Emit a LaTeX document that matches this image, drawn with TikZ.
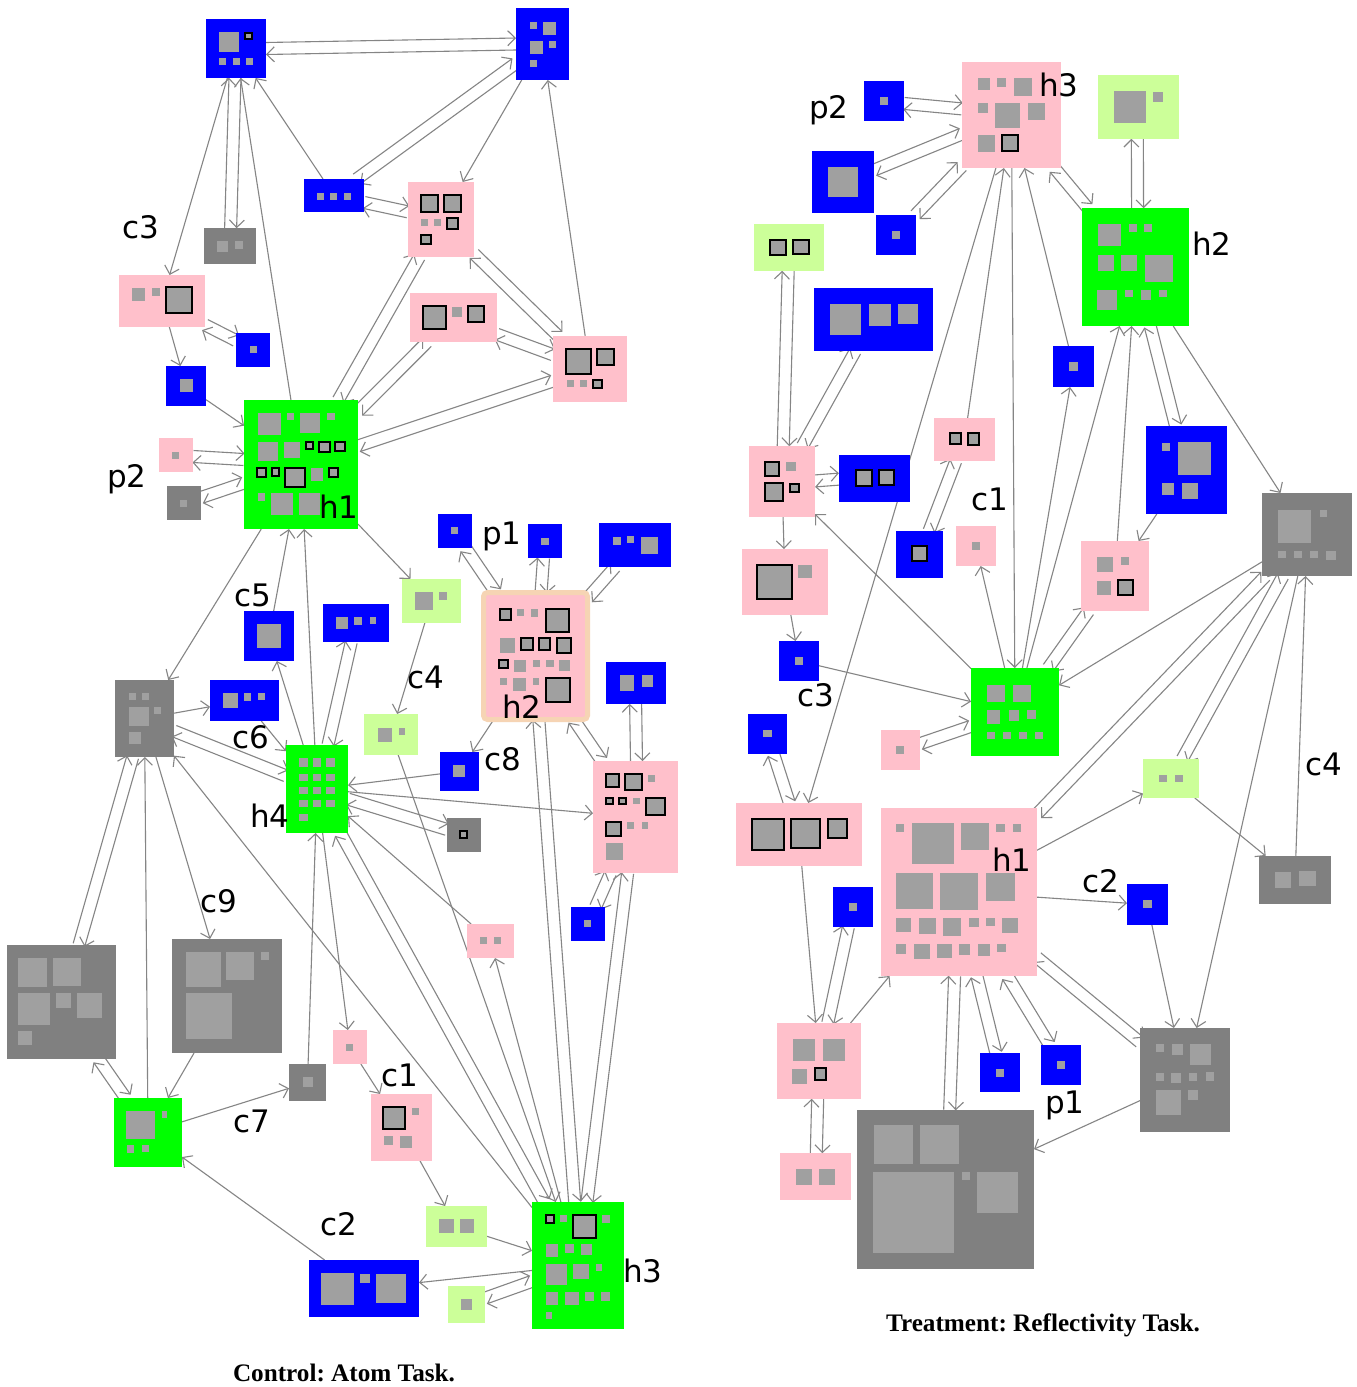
\documentclass[tikz,border=0pt]{standalone}
\usepackage{fontspec}
\usetikzlibrary{arrows.meta}
\newfontfamily\labfont{DejaVu Sans}
\newfontfamily\capfont{Liberation Serif}
\definecolor{bl}{HTML}{0000FF}
\definecolor{gr}{HTML}{00FF00}
\definecolor{pk}{HTML}{FFC0CB}
\definecolor{lg}{HTML}{CCFF99}
\definecolor{gy}{HTML}{808080}
\definecolor{ingc}{HTML}{A0A0A0}
\definecolor{edgec}{HTML}{858585}
\definecolor{peach}{HTML}{F6D4B4}
\pgfdeclarelayer{back}
\pgfdeclarelayer{bg}
\pgfsetlayers{back,bg,main}
\frenchspacing
\tikzset{
  bxs/.style={rectangle,draw=none,inner sep=0pt,outer sep=0pt},
  arr/.style={draw=edgec,line width=1.1pt,-{Straight Barb[length=7.5pt,width=15pt]}},
  lbl/.style={font=\labfont\fontsize{31}{31}\selectfont,anchor=base,inner sep=0pt},
  capt/.style={font=\capfont\bfseries\fontsize{25.2}{25.2}\selectfont,inner sep=0pt},
}
\newcommand\bx[6]{\node[bxs,fill=#6,minimum width={(#4-#2)*1pt},minimum height={(#5-#3)*1pt}] (#1) at ({(#2+#4)/2},{(#3+#5)/2}) {};}
\newcommand\sqs[1]{\foreach \qa/\qb/\qc/\qd in {#1} {\fill[ingc] (\qa,\qb) rectangle (\qc,\qd);}}
\newcommand\sqbs[1]{\foreach \qa/\qb/\qc/\qd in {#1} {\filldraw[fill=ingc,draw=black,line width=1.3pt] (\qa,\qb) rectangle (\qc,\qd);}}
\newcommand\e[2]{\draw[arr] (#1) -- (#2);}
\newcommand\pr[3][6]{%
  \path (#2.center); \pgfgetlastxy{\prax}{\pray}%
  \path (#3.center); \pgfgetlastxy{\prbx}{\prby}%
  \pgfmathtruncatemacro\prang{mod(atan2(\prby-\pray,\prbx-\prax)+720,360)}%
  \pgfmathtruncatemacro\prangb{mod(\prang+180,360)}%
  \draw[arr] ([shift={(\prang+90:#1pt)}]#2.\prang) -- ([shift={(\prang+90:#1pt)}]#3.\prangb);%
  \draw[arr] ([shift={(\prang-90:#1pt)}]#3.\prangb) -- ([shift={(\prang-90:#1pt)}]#2.\prang);%
}
\begin{document}
\begin{tikzpicture}[x=1pt,y=-1pt]
\begin{pgfonlayer}{back}
\fill[white] (0,0) rectangle (1357,1387);
\end{pgfonlayer}
\useasboundingbox (0,0) rectangle (1357,1387);
% ================= LEFT GRAPH =================
\bx{lA}{206}{19}{266}{78}{bl}
\sqs{219/32/239/52,219/58/226/65,233/58/240/65,246/58/253/65}\sqbs{245/33/252/39}
\bx{lB}{516}{8}{569}{80}{bl}
\sqs{530/22/537/29,543/22/556/35,530/41/543/54,549/41/556/48,530/60/537/67}
\bx{lC}{204}{228}{256}{264}{gy}
\sqs{217/241/228/252,235/241/243/249}
\bx{lD}{119}{275}{205}{327}{pk}
\sqs{132/288/145/301,152/288/160/296}\sqbs{166/287/192/313}
\bx{lE}{236}{333}{270}{367}{bl}
\sqs{250/346/257/353}
\bx{lF}{166}{366}{206}{406}{bl}
\sqs{180/379/193/392}
\bx{lG}{304}{179}{364}{212}{bl}
\sqs{317/193/324/200,330/193/337/200,344/193/351/200}
\bx{lH}{408}{182}{474}{257}{pk}
\sqbs{421/195/438/212,444/195/461/212,447/218/458/229,421/235/431/244}\sqs{421/219/428/226,434/219/441/226}
\bx{lI}{410}{293}{497}{342}{pk}
\sqbs{423/306/446/329,468/306/484/322}\sqs{452/307/462/317}
\bx{lJ}{553}{336}{627}{402}{pk}
\sqbs{566/349/591/374,597/349/614/365,593/380/602/388}\sqs{567/380/574/387,580/380/587/387}
\bx{lh1}{244}{400}{358}{529}{gr}
\sqs{258/413/281/435,287/413/294/420,300/413/320/433,327/413/335/420,258/442/278/461,284/442/300/458,311/468/323/481,258/493/265/501,271/493/293/515,299/493/320/515}
\sqbs{306/442/313/449,319/442/330/452,335/442/345/451,257/468/266/477,272/468/279/476,285/468/305/487,329/468/338/477}
\bx{lK}{159}{438}{193}{472}{pk}
\sqs{172/452/179/459}
\bx{lL}{167}{486}{201}{520}{gy}
\sqs{180/500/187/507}
\bx{lM}{244}{611}{294}{661}{bl}
\sqs{257/624/281/648}
\bx{lN}{323}{604}{389}{642}{bl}
\sqs{336/617/348/629,354/617/362/625,370/617/376/624}
\bx{lO}{402}{579}{461}{623}{lg}
\sqs{415/592/433/610,439/592/447/600}
\bx{lP}{364}{714}{418}{755}{lg}
\sqs{378/728/392/742,399/728/405/735}
\bx{lQ}{438}{514}{472}{548}{bl}
\sqs{451/527/458/534}
\bx{lR}{528}{524}{562}{558}{bl}
\sqs{541/538/549/545}
\bx{lS}{599}{523}{671}{567}{bl}
\sqs{613/537/621/545,627/536/634/543,641/537/658/554}
\node[bxs,fill=pk,draw=peach,line width=5pt,rounded corners=4pt,minimum width=104pt,minimum height=127pt] (lh2) at (535.5,656) {};
\sqbs{500/609/511/620,546/609/569/632,521/638/533/650,539/638/550/650,557/638/571/653,499/660/508/668,546/678/570/702}
\sqs{517/609/524/616,531/609/538/617,500/638/515/653,514/660/526/672,533/660/540/667,546/660/554/667,559/660/570/671,500/678/507/685,513/678/526/691,533/678/539/685}
\bx{lT}{606}{662}{666}{704}{bl}
\sqs{620/675/634/691,642/675/653/687}
\bx{lU}{593}{761}{678}{873}{pk}
\sqbs{606/774/619/787,625/774/642/790,606/798/613/804,619/798/626/804,646/798/665/815,606/822/621/836}
\sqs{648/775/655/782,633/798/640/804,627/822/634/829,642/822/648/829,606/843/623/860}
\bx{lV}{440}{752}{479}{791}{bl}
\sqs{453/765/465/777}
\bx{lh4}{286}{745}{348}{833}{gr}
\sqs{299/758/308/767,313/758/321/767,326/758/335/767,299/774/308/781,313/774/321/781,326/774/335/781,299/787/308/794,313/787/321/794,326/787/335/794,299/800/308/807,313/800/321/807,326/800/335/807,299/814/308/821}
\bx{lW}{115}{680}{174}{757}{gy}
\sqs{129/693/136/700,142/693/149/700,129/707/149/726,154/707/161/714,129/732/141/744}
\bx{lX}{210}{680}{279}{721}{bl}
\sqs{223/693/238/708,244/693/251/701,258/693/265/700}
\bx{lY}{447}{818}{481}{852}{gy}
\sqbs{460/831/467/838}
\bx{lZ}{467}{924}{514}{958}{pk}
\sqs{480/937/487/944,494/937/501/944}
\bx{la}{571}{907}{605}{941}{bl}
\sqs{584/920/591/927}
\bx{lb}{7}{945}{116}{1059}{gy}
\sqs{18/958/47/987,53/958/81/986,18/993/50/1025,56/993/71/1008,77/993/102/1018,18/1031/32/1045}
\bx{lc}{172}{939}{282}{1053}{gy}
\sqs{186/952/221/987,226/952/254/980,261/952/269/960,186/993/232/1039}
\bx{ld}{114}{1098}{182}{1167}{gr}
\sqs{126/1111/155/1139,162/1111/167/1118,127/1145/134/1153,142/1145/149/1152}
\bx{le}{289}{1064}{326}{1101}{gy}
\sqs{303/1077/313/1087}
\bx{lf}{333}{1030}{367}{1064}{pk}
\sqs{346/1044/353/1051}
\bx{lg}{371}{1094}{432}{1161}{pk}
\sqbs{383/1107/405/1129}\sqs{412/1108/419/1115,384/1136/393/1145,400/1136/412/1148}
\bx{li}{426}{1206}{487}{1247}{lg}
\sqs{439/1219/454/1233,460/1219/474/1233}
\bx{lh3}{532}{1202}{624}{1329}{gr}
\sqbs{546/1215/554/1223,573/1215/596/1238}
\sqs{560/1215/567/1222,602/1215/610/1223,546/1244/558/1257,565/1244/574/1253,581/1244/592/1255,546/1264/567/1285,573/1264/589/1279,596/1264/602/1271,546/1292/558/1305,565/1292/579/1305,585/1292/594/1301,601/1292/610/1301,546/1312/552/1319}
\bx{lj}{309}{1260}{419}{1317}{bl}
\sqs{321/1273/354/1305,360/1274/370/1283,376/1274/406/1303}
\bx{lk}{448}{1286}{485}{1323}{lg}
\sqs{461/1299/472/1310}
% left labels
\node[lbl] (tc3) at (141,238) {c3};
\node[lbl] (tp2) at (127,487) {p2};
\node[lbl] (th1) at (339,518) {h1};
\node[lbl] (tc5) at (253,606) {c5};
\node[lbl] (tp1) at (502,544) {p1};
\node[lbl] (tc4) at (426,688) {c4};
\node[lbl] (th2) at (522,718) {h2};
\node[lbl] (tc6) at (251,748) {c6};
\node[lbl] (tc8) at (503,770) {c8};
\node[lbl] (th4) at (270,827) {h4};
\node[lbl] (tc9) at (219,912) {c9};
\node[lbl] (tc1) at (400,1086) {c1};
\node[lbl] (tc7) at (252,1132) {c7};
\node[lbl] (tc2) at (339,1235) {c2};
\node[lbl] (th3) at (643,1282) {h3};
\node[capt] (capL) at (344,1373) {Control: Atom Task.};
% ================= RIGHT GRAPH =================
\bx{rA}{962}{62}{1061}{168}{pk}
\sqs{978/78/990/90,997/78/1006/87,1014/78/1032/96,978/103/988/113,995/103/1020/128,1028/103/1045/120,978/135/995/152}\sqbs{1002/135/1018/151}
\bx{rB}{864}{81}{904}{121}{bl}
\sqs{880/97/888/105}
\bx{rC}{812}{151}{874}{213}{bl}
\sqs{828/167/858/197}
\bx{rD}{876}{215}{916}{255}{bl}
\sqs{892/231/900/239}
\bx{rE}{1098}{75}{1179}{139}{lg}
\sqs{1114/91/1146/123,1153/92/1163/102}
\bx{rF}{1082}{208}{1189}{326}{gr}
\sqs{1098/224/1121/246,1129/224/1137/232,1144/224/1152/232,1098/255/1114/271,1121/255/1137/271,1145/255/1173/282,1097/290/1117/310,1125/290/1133/297,1141/290/1151/300,1159/290/1167/297}
\bx{rG}{754}{224}{824}{271}{lg}
\sqbs{770/240/786/255,793/240/809/254}
\bx{rH}{814}{288}{933}{351}{bl}
\sqs{830/304/861/335,869/304/891/326,898/304/918/324}
\bx{rI}{1053}{346}{1094}{387}{bl}
\sqs{1069/362/1078/371}
\bx{rJ}{1146}{426}{1227}{514}{bl}
\sqs{1162/443/1170/451,1178/442/1211/475,1162/483/1174/495,1182/483/1198/499}
\bx{rK}{1262}{493}{1352}{576}{gy}
\sqs{1278/510/1311/543,1320/510/1327/517,1278/551/1286/558,1294/551/1302/558,1310/551/1318/558,1326/551/1336/560}
\bx{rL}{749}{446}{815}{517}{pk}
\sqbs{765/462/779/476,765/483/783/501,790/484/799/492}\sqs{786/462/796/471}
\bx{rM}{839}{455}{910}{502}{bl}
\sqbs{856/470/872/486,879/470/894/485}
\bx{rN}{934}{418}{995}{461}{pk}
\sqbs{950/433/961/444,968/433/979/445}
\bx{rO}{896}{531}{943}{578}{bl}
\sqbs{912/546/927/561}
\bx{rP}{956}{526}{996}{566}{pk}
\sqs{972/542/980/550}
\bx{rQ}{1081}{541}{1149}{611}{pk}
\sqs{1097/557/1113/572,1121/557/1129/565,1097/581/1111/595}\sqbs{1118/580/1133/595}
\bx{rR}{742}{549}{828}{615}{pk}
\sqbs{757/565/792/599}\sqs{798/565/812/578}
\bx{rS}{779}{641}{819}{681}{bl}
\sqs{795/657/803/665}
\bx{rT}{971}{668}{1059}{756}{gr}
\sqs{987/685/1005/702,1013/685/1031/702,987/710/1000/724,1009/710/1019/721,1027/710/1036/719,987/732/995/739,1003/732/1011/739,1019/732/1027/739,1035/732/1043/739}
\bx{rU}{881}{730}{920}{770}{pk}
\sqs{896/746/904/754}
\bx{rV}{748}{714}{787}{754}{bl}
\sqs{763/730/772/737}
\bx{rW}{736}{803}{862}{866}{pk}
\sqbs{752/819/784/850,791/819/820/848,828/819/847/838}
\bx{rh1}{881}{808}{1037}{976}{pk}
\sqs{896/824/904/832,912/823/954/864,961/823/989/850,996/824/1005/832,1013/824/1021/832,896/873/933/909,940/873/978/910,986/873/1015/901,896/918/911/932,919/918/936/934,943/918/961/936,969/918/979/927,986/918/995/926,1002/918/1018/933,896/944/906/954,914/944/930/959,937/944/952/958,959/944/970/955,978/944/990/956,997/944/1006/952}
\bx{rX}{1143}{759}{1199}{798}{lg}
\sqs{1159/775/1167/782,1175/775/1183/782}
\bx{rY}{1259}{856}{1331}{904}{gy}
\sqs{1275/872/1291/888,1299/871/1316/886}
\bx{rZ}{1127}{884}{1168}{925}{bl}
\sqs{1143/900/1152/908}
\bx{ra}{833}{887}{873}{927}{bl}
\sqs{849/903/857/911}
\bx{rb}{777}{1023}{861}{1099}{pk}
\sqs{793/1039/815/1061,823/1039/845/1061,792/1069/807/1084}\sqbs{815/1068/826/1080}
\bx{rc}{980}{1053}{1020}{1092}{bl}
\sqs{996/1069/1004/1077}
\bx{rd}{1041}{1045}{1081}{1085}{bl}
\sqs{1057/1061/1065/1069}
\bx{re}{1140}{1028}{1230}{1132}{gy}
\sqs{1156/1044/1164/1052,1172/1044/1183/1055,1190/1044/1211/1065,1156/1073/1164/1081,1171/1073/1181/1083,1189/1073/1197/1081,1206/1072/1214/1081,1156/1090/1181/1115,1188/1090/1198/1100}
\bx{rf}{780}{1153}{851}{1200}{pk}
\sqs{796/1169/812/1185,819/1169/835/1185}
\bx{rg}{857}{1110}{1034}{1269}{gy}
\sqs{874/1125/913/1164,920/1125/959/1164,873/1172/954/1253,962/1172/970/1180,977/1172/1018/1213}
% right labels
\node[lbl] (up2) at (829,118) {p2};
\node[lbl] (uh3) at (1059,96) {h3};
\node[lbl] (uh2) at (1212,255) {h2};
\node[lbl] (uc1) at (990,510) {c1};
\node[lbl] (uc3) at (816,706) {c3};
\node[lbl] (uc4) at (1324,775) {c4};
\node[lbl] (uh1) at (1012,871) {h1};
\node[lbl] (uc2) at (1101,892) {c2};
\node[lbl] (up1) at (1065,1113) {p1};
\node[capt] (capR) at (1043,1325) {Treatment: Reflectivity Task.};
% ================= EDGES =================
\begin{pgfonlayer}{bg}
\pr{lA}{lB}
\e{lA}{lD}
\pr{lC}{lA}
\e{lh1}{lA}
\e{lG}{lA}
\pr{lG}{lB}
\e{lB}{lH}
\e{lJ}{lB}
\pr{lG}{lH}
\pr{lD}{lE}
\e{lD}{lF}
\e{lF}{lh1}
\pr{lK}{lh1}
\pr{lL}{lh1}
\pr{lh1}{lH}
\pr{lh1}{lI}
\pr{lH}{lJ}
\pr{lI}{lJ}
\pr{lh1}{lJ}
\e{lh1}{lW}
\e{lM}{lh1}
\e{lh4}{lh1}
\e{lh1}{lO}
\e{lh4}{lM}
\pr{lh4}{lN}
\e{lO}{lP}
\e{lW}{lX}
\e{lX}{lh4}
\pr{lW}{lh4}
\e{lV}{lh4}
\e{lh2}{lV}
\e{lh4}{lU}
\pr{lh4}{lY}
\pr{lh2}{lQ}
\pr{lh2}{lR}
\pr{lh2}{lS}
\pr{lU}{lh2}
\pr{lU}{lT}
\pr{lh3}{lh2}
\pr{lh3}{lU}
\pr{la}{lU}
\pr{lh3}{lh4}
\e{lZ}{lh4}
\e{lh3}{lZ}
\e{lP}{lh3}
\e{lh3}{lW}
\pr{lb}{lW}
\e{ld}{lW}
\e{lW}{lc}
\pr{ld}{lb}
\e{lc}{ld}
\e{ld}{le}
\e{lj}{ld}
\e{lh4}{lf}
\e{le}{lh4}
\e{lf}{lg}
\e{lg}{li}
\e{li}{lh3}
\e{lh3}{lj}
\pr{lk}{lh3}
% right
\pr{rB}{rA}
\pr{rC}{rA}
\pr{rD}{rA}
\pr{rA}{rF}
\pr{rF}{rE}
\e{rA}{rW}
\e{rN}{rA}
\e{rA}{rT}
\e{rI}{rA}
\e{rT}{rI}
\e{rT}{rF}
\e{rQ}{rF}
\pr{rT}{rQ}
\pr{rF}{rJ}
\e{rF}{rK}
\e{rJ}{rQ}
\pr{rL}{rG}
\pr{rL}{rH}
\pr{rL}{rM}
\e{rL}{rR}
\e{rT}{rL}
\pr{rO}{rN}
\e{rT}{rP}
\e{rR}{rS}
\e{rS}{rT}
\pr{rU}{rT}
\pr{rW}{rV}
\e{rK}{rT}
\pr{rh1}{rK}
\pr{rX}{rK}
\e{rK}{re}
\e{rY}{rK}
\e{rX}{rY}
\e{rh1}{rX}
\e{rh1}{rZ}
\e{rZ}{re}
\pr{rh1}{re}
\pr{rh1}{rd}
\pr{rc}{rh1}
\pr{rg}{rh1}
\e{rb}{rh1}
\e{rW}{rb}
\pr{rb}{ra}
\pr{rf}{rb}
\e{re}{rg}
\end{pgfonlayer}
\end{tikzpicture}
\end{document}
